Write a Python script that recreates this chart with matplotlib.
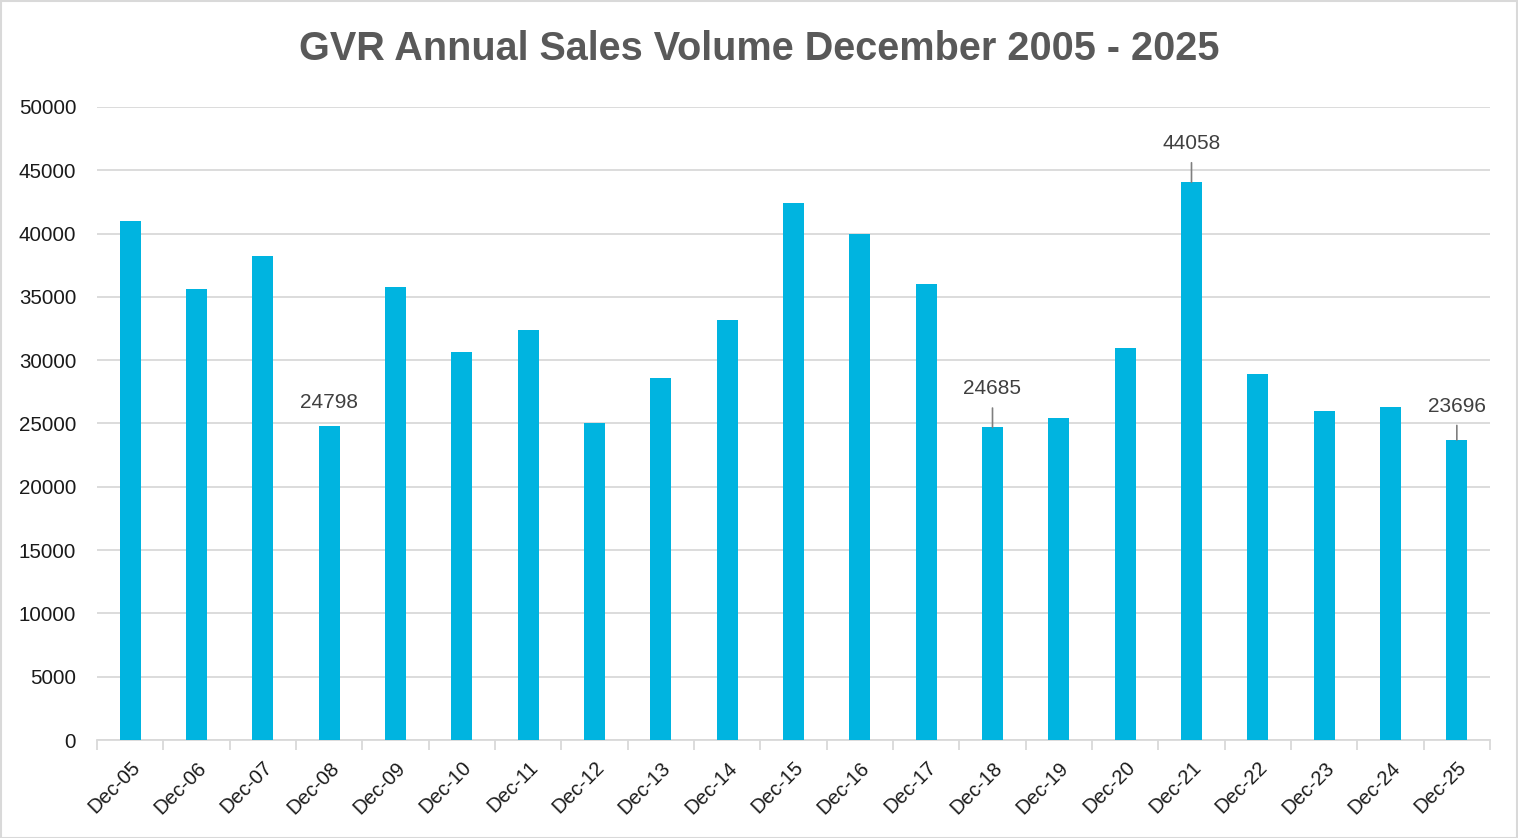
import matplotlib
matplotlib.use("Agg")
import matplotlib.pyplot as plt
from matplotlib.patches import Rectangle

categories = ["Dec-05", "Dec-06", "Dec-07", "Dec-08", "Dec-09", "Dec-10", "Dec-11",
              "Dec-12", "Dec-13", "Dec-14", "Dec-15", "Dec-16", "Dec-17", "Dec-18",
              "Dec-19", "Dec-20", "Dec-21", "Dec-22", "Dec-23", "Dec-24", "Dec-25"]
sales = [40960, 35620, 38250, 24798, 35750, 30620, 32420,
         25050, 28580, 33150, 42390, 40000, 36050, 24685,
         25400, 30980, 44058, 28890, 26000, 26320, 23696]
labelled = ["Dec-08", "Dec-18", "Dec-21", "Dec-25"]
yticks = list(range(0, 50001, 5000))

# label styling (offset in points, whether a leader line is drawn)
label_style = {"Dec-08": (10, False), "Dec-18": (21, True),
               "Dec-21": (21, True), "Dec-25": (17.5, True)}

W, H = 1518, 838
fig = plt.figure(figsize=(W / 100, H / 100), dpi=100)
fig.patches.append(Rectangle((0.5 / W, 0.5 / H), 1 - 1.5 / W, 1 - 1.5 / H,
                             transform=fig.transFigure, fill=False,
                             edgecolor="#d9d9d9", linewidth=1.5))
ax = fig.add_axes([97 / W, (H - 740) / H, (1490 - 97) / W, (740 - 107) / H])

x = list(range(len(categories)))
ax.bar(x, sales, width=0.32, color="#00B4E0", zorder=3)

ax.set_xlim(-0.5, len(categories) - 0.5)
ax.set_ylim(0, 50000)
ax.set_yticks(yticks)
ax.set_yticklabels([str(v) for v in yticks], fontsize=14.8, color="#1a1a1a",
                   family="Liberation Sans")
ax.grid(axis="y", color="#d9d9d9", linewidth=1.3, zorder=0)
ax.tick_params(axis="y", length=0, pad=15)

ax.set_xticks(x)
ax.set_xticklabels(categories, rotation=45, ha="right", rotation_mode="anchor",
                   fontsize=14.5, color="#1a1a1a", family="Liberation Sans")
ax.tick_params(axis="x", length=0, pad=13)
ax.set_xticks([i - 0.5 for i in range(len(categories) + 1)], minor=True)
ax.tick_params(axis="x", which="minor", length=7, color="#d9d9d9", width=1.3)

for s in ["top", "right", "left"]:
    ax.spines[s].set_visible(False)
ax.spines["bottom"].set_color("#d9d9d9")
ax.spines["bottom"].set_linewidth(1.3)

for i, (c, v) in enumerate(zip(categories, sales)):
    if c in labelled:
        off, line = label_style[c]
        kw = dict(xy=(i, v), xytext=(0, off), textcoords="offset points",
                  ha="center", va="bottom", fontsize=15, color="#404040",
                  family="Liberation Sans")
        if line:
            kw["arrowprops"] = dict(arrowstyle="-", color="#7f7f7f", lw=1.2,
                                    shrinkA=5, shrinkB=0)
        ax.annotate(str(v), **kw)

fig.text(0.5, (H - 49) / H, "GVR Annual Sales Volume December 2005 - 2025",
         ha="center", va="center", fontsize=28.5, fontweight="bold", color="#595959",
         family=["Liberation Sans Narrow", "Liberation Sans"])

fig.savefig("out.png", dpi=100)
